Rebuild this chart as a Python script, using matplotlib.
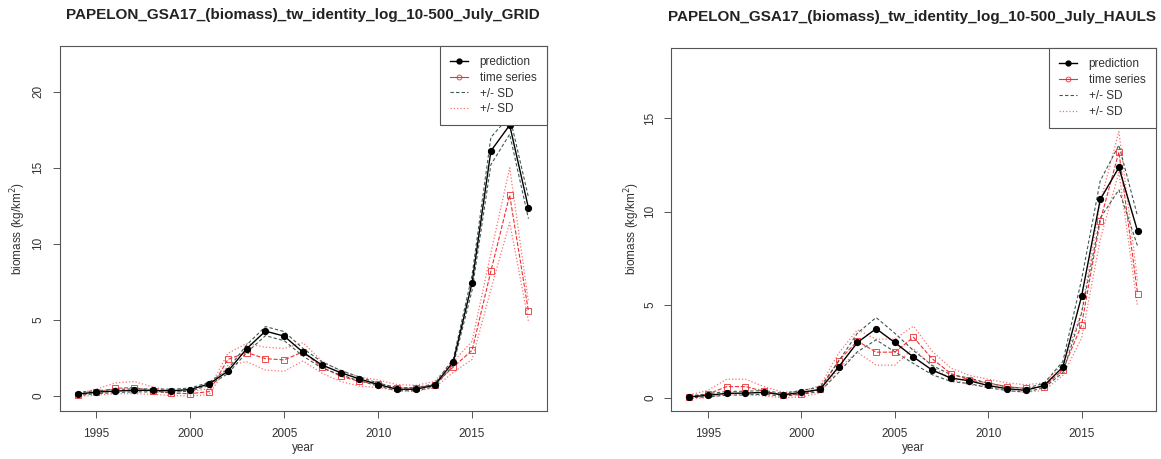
import numpy as np
import matplotlib
matplotlib.use("Agg")
from matplotlib import pyplot as plt
from matplotlib.lines import Line2D

plt.rcParams['font.family'] = ['Liberation Sans', 'DejaVu Sans']

years = np.arange(1994, 2019)

# GRID run
grid_pred = [0.13, 0.25, 0.32, 0.37, 0.36, 0.34, 0.42, 0.79, 1.62, 3.1, 4.26, 3.93, 2.87,
             2.04, 1.53, 1.12, 0.75, 0.44, 0.44, 0.7, 2.24, 7.45, 16.1, 17.8, 12.35]
grid_pred_sd = [0.1, 0.1, 0.1, 0.1, 0.1, 0.1, 0.1, 0.1, 0.15, 0.25, 0.3, 0.3, 0.25,
                0.2, 0.15, 0.12, 0.1, 0.1, 0.1, 0.1, 0.2, 0.5, 0.9, 0.6, 0.7]
grid_ts = [0.05, 0.25, 0.5, 0.55, 0.35, 0.18, 0.15, 0.28, 2.4, 2.85, 2.45, 2.37, 2.9,
           1.9, 1.3, 0.95, 0.8, 0.55, 0.5, 0.75, 1.9, 3.0, 8.2, 13.2, 5.55]
grid_ts_sd = [0.1, 0.2, 0.35, 0.4, 0.25, 0.15, 0.15, 0.2, 0.4, 0.6, 0.75, 0.75, 0.6,
              0.4, 0.35, 0.3, 0.25, 0.2, 0.2, 0.2, 0.35, 0.6, 1.2, 1.8, 0.65]

# HAULS run
haul_pred = [0.05, 0.13, 0.24, 0.25, 0.29, 0.16, 0.29, 0.45, 1.67, 2.97, 3.71, 2.97, 2.19,
             1.49, 1.06, 0.91, 0.66, 0.49, 0.40, 0.66, 1.65, 5.44, 10.65, 12.37, 8.95]
haul_pred_sd = [0.05, 0.08, 0.1, 0.1, 0.1, 0.08, 0.1, 0.12, 0.3, 0.5, 0.6, 0.5, 0.35,
                0.25, 0.18, 0.15, 0.12, 0.1, 0.1, 0.12, 0.3, 0.9, 1.0, 1.2, 0.8]
haul_ts = [0.05, 0.2, 0.6, 0.6, 0.35, 0.15, 0.2, 0.45, 2.0, 3.05, 2.45, 2.45, 3.25,
           2.1, 1.3, 0.95, 0.8, 0.6, 0.5, 0.6, 1.5, 3.9, 9.5, 13.2, 5.6]
haul_ts_sd = [0.1, 0.2, 0.4, 0.4, 0.25, 0.15, 0.15, 0.2, 0.4, 0.6, 0.7, 0.7, 0.6,
              0.4, 0.3, 0.25, 0.2, 0.2, 0.2, 0.2, 0.3, 0.7, 1.0, 1.1, 0.7]

titles = ["PAPELON_GSA17_(biomass)_tw_identity_log_10-500_July_GRID",
          "PAPELON_GSA17_(biomass)_tw_identity_log_10-500_July_HAULS"]
legend_labels = ["prediction", "time series", "+/- SD", "+/- SD"]

W, H = 1161, 459
fig = plt.figure(figsize=(W / 100, H / 100), dpi=100)

sd_dark = '#3d5a50'
ts_red = '#f03030'
sd_red = '#ff6f6f'
box_col = '#555555'


def panel(rect, pred, pred_sd, ts, ts_sd, ylim, yticks, title, title_xy):
    ax = fig.add_axes([rect[0] / W, 1 - rect[3] / H, (rect[2] - rect[0]) / W, (rect[3] - rect[1]) / H])
    pred = np.array(pred); pred_sd = np.array(pred_sd)
    ts = np.array(ts); ts_sd = np.array(ts_sd)

    ax.plot(years, ts + ts_sd, ':', color=sd_red, lw=0.9)
    ax.plot(years, ts - ts_sd, ':', color=sd_red, lw=0.9)
    ax.plot(years, ts, '--', color=ts_red, lw=0.8, marker='s', ms=4, mfc='none', mec=ts_red, mew=0.6)
    ax.plot(years, pred + pred_sd, '--', color=sd_dark, lw=0.8, dashes=(3, 2))
    ax.plot(years, pred - pred_sd, '--', color=sd_dark, lw=0.8, dashes=(3, 2))
    ax.plot(years, pred, '-', color='black', lw=1.0, marker='o', ms=4.2)

    ax.set_xlim(1993.04, 2018.96)
    ax.set_ylim(*ylim)
    ax.set_xticks([1995, 2000, 2005, 2010, 2015])
    ax.set_yticks(yticks)
    ax.tick_params(axis='both', length=5, width=0.7, color=box_col, labelsize=8.5,
                   labelcolor='#333333')
    ax.tick_params(axis='x', pad=7)
    ax.tick_params(axis='y', pad=6)
    for lab in ax.get_yticklabels():
        lab.set_rotation(90)
        lab.set_va('center')
    for sp in ax.spines.values():
        sp.set_color(box_col)
        sp.set_linewidth(0.8)

    handles = [Line2D([], [], color='black', lw=1.0, marker='o', ms=3.5),
               Line2D([], [], color=ts_red, lw=0.8, marker='o', ms=3.5, mfc='none', mew=0.6),
               Line2D([], [], color=sd_dark, lw=0.8, ls='--', dashes=(3, 2)),
               Line2D([], [], color=sd_red, lw=0.9, ls=':')]
    leg = ax.legend(handles, legend_labels, loc='upper right', bbox_to_anchor=(1, 1),
                    borderaxespad=0, fancybox=False, framealpha=1, edgecolor=box_col,
                    fontsize=8.5, labelspacing=0.32, handlelength=1.5, handletextpad=1.0,
                    borderpad=0.85)
    leg.get_frame().set_linewidth(0.8)
    for t in leg.get_texts():
        t.set_color('#333333')

    ax.set_xlabel("year", fontsize=8.5, color='#333333', labelpad=2)
    fig.text(title_xy[0] / W, 1 - title_xy[1] / H, title, ha='center', va='center',
             fontsize=11, fontweight='bold', color='#222222')
    return ax


ax1 = panel((59.5, 46, 546.5, 411), grid_pred, grid_pred_sd, grid_ts, grid_ts_sd,
            (-0.99, 23.0), [0, 5, 10, 15, 20], titles[0], (303, 15))
ax2 = panel((671.4, 48.3, 1155.5, 411), haul_pred, haul_pred_sd, haul_ts, haul_ts_sd,
            (-0.71, 18.77), [0, 5, 10, 15], titles[1], (912, 17))

fig.text(18 / W, 1 - 228 / H, "biomass (kg/km$^2$)", rotation=90, ha='center', va='center',
         fontsize=8.5, color='#333333')
fig.text(632 / W, 1 - 228 / H, "biomass (kg/km$^2$)", rotation=90, ha='center', va='center',
         fontsize=8.5, color='#333333')

fig.savefig("out.png", dpi=100)
